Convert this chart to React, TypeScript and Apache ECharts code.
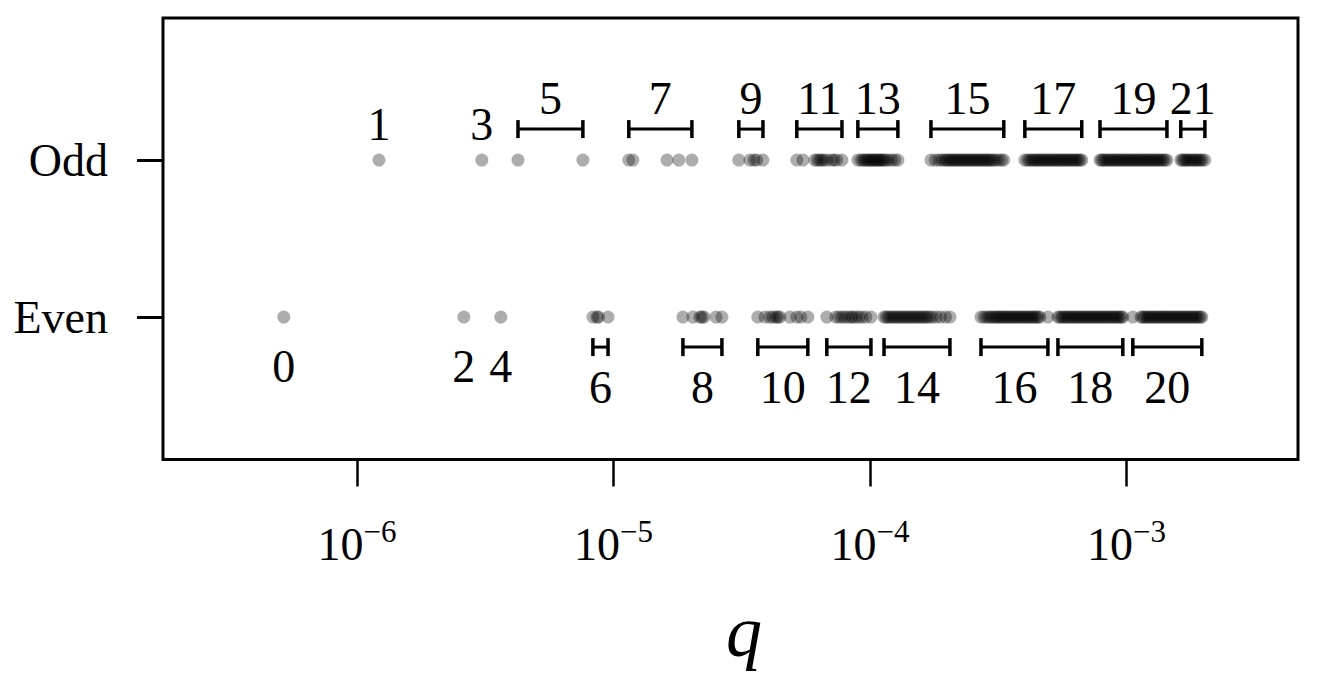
import React, { useEffect, useRef } from "react";
import * as echarts from "echarts";

const FONT = '"Liberation Serif", "Times New Roman", Times, serif';

// Row positions (value axis): Odd on top, Even below
const rowNames = ["Even", "Odd"];
const rowValues = [0, 1];

// x-axis tick exponents (labels shown as 10^k)
const tickExponents = [-6, -5, -4, -3];

// log10(q) of every point, grouped by label number
const odd1 = [-5.914];
const odd3 = [-5.513];
const odd5 = [-5.372, -5.119];
const odd7 = [-4.94, -4.924, -4.791, -4.745, -4.694];
const odd9 = [-4.511, -4.468, -4.452, -4.441, -4.417];
const odd11 = [-4.285, -4.261, -4.215, -4.205, -4.196, -4.188, -4.18, -4.168, -4.15, -4.14, -4.129, -4.109];
const odd13 = [-4.047, -4.035, -4.027, -4.02, -4.013, -4.006, -4.0, -3.994, -3.988, -3.982, -3.976, -3.97, -3.964, -3.958, -3.952, -3.946, -3.938, -3.928, -3.915, -3.903, -3.891];
const odd15 = [-3.762, -3.745, -3.731, -3.719, -3.71, -3.702, -3.695, -3.688, -3.681, -3.674, -3.667, -3.66, -3.653, -3.646, -3.639, -3.632, -3.625, -3.618, -3.611, -3.604, -3.597, -3.59, -3.583, -3.576, -3.569, -3.562, -3.555, -3.548, -3.541, -3.534, -3.527, -3.519, -3.51, -3.499, -3.487, -3.478];
const odd17 = [-3.396, -3.386, -3.378, -3.37, -3.363, -3.356, -3.349, -3.342, -3.335, -3.328, -3.321, -3.314, -3.307, -3.3, -3.293, -3.286, -3.279, -3.272, -3.265, -3.258, -3.251, -3.244, -3.237, -3.23, -3.223, -3.216, -3.209, -3.202, -3.195, -3.188, -3.181, -3.174];
const odd19 = [-3.103, -3.096, -3.089, -3.082, -3.075, -3.068, -3.061, -3.054, -3.047, -3.04, -3.033, -3.026, -3.019, -3.012, -3.005, -2.998, -2.991, -2.984, -2.977, -2.97, -2.963, -2.956, -2.949, -2.942, -2.935, -2.928, -2.921, -2.914, -2.907, -2.9, -2.893, -2.886, -2.879, -2.872, -2.865, -2.858, -2.85, -2.842];
const odd21 = [-2.788, -2.781, -2.774, -2.767, -2.76, -2.753, -2.746, -2.739, -2.732, -2.725, -2.718, -2.711, -2.704, -2.694];

const even0 = [-6.285];
const even2 = [-5.583];
const even4 = [-5.439];
const even6 = [-5.08, -5.064, -5.058, -5.021];
const even8 = [-4.729, -4.69, -4.663, -4.655, -4.647, -4.6, -4.577];
const even10 = [-4.437, -4.409, -4.39, -4.378, -4.366, -4.359, -4.351, -4.312, -4.285, -4.269, -4.242];
const even12 = [-4.168, -4.133, -4.121, -4.109, -4.098, -4.086, -4.074, -4.066, -4.055, -4.043, -4.031, -4.016, -3.996];
const even14 = [-3.945, -3.937, -3.929, -3.921, -3.913, -3.905, -3.897, -3.889, -3.881, -3.873, -3.865, -3.857, -3.849, -3.841, -3.833, -3.825, -3.817, -3.809, -3.801, -3.793, -3.785, -3.777, -3.768, -3.757, -3.742, -3.725, -3.705, -3.688];
const even16 = [-3.567, -3.555, -3.545, -3.536, -3.528, -3.52, -3.512, -3.505, -3.498, -3.491, -3.484, -3.477, -3.47, -3.463, -3.456, -3.449, -3.442, -3.435, -3.428, -3.421, -3.414, -3.407, -3.4, -3.393, -3.386, -3.379, -3.372, -3.365, -3.358, -3.351, -3.344, -3.337, -3.306];
const even18 = [-3.267, -3.259, -3.251, -3.244, -3.237, -3.23, -3.223, -3.216, -3.209, -3.202, -3.195, -3.188, -3.181, -3.174, -3.167, -3.16, -3.153, -3.146, -3.139, -3.132, -3.125, -3.118, -3.111, -3.104, -3.097, -3.09, -3.083, -3.076, -3.069, -3.062, -3.055, -3.048, -3.041, -3.034, -3.027, -3.02, -3.014];
const even20 = [-2.975, -2.943, -2.936, -2.929, -2.922, -2.915, -2.908, -2.901, -2.894, -2.887, -2.88, -2.873, -2.866, -2.859, -2.852, -2.845, -2.838, -2.831, -2.824, -2.817, -2.81, -2.803, -2.796, -2.789, -2.782, -2.775, -2.768, -2.761, -2.754, -2.747, -2.74, -2.733, -2.726, -2.719, -2.712, -2.706];

const oddLabels = [1, 3, 5, 7, 9, 11, 13, 15, 17, 19, 21];
const oddGroups = [odd1, odd3, odd5, odd7, odd9, odd11, odd13, odd15, odd17, odd19, odd21];
const evenLabels = [0, 2, 4, 6, 8, 10, 12, 14, 16, 18, 20];
const evenGroups = [even0, even2, even4, even6, even8, even10, even12, even14, even16, even18, even20];

const LABEL_SIZE = 46;

function bracketRender(params: any, api: any) {
  const lo = api.value(0);
  const hi = api.value(1);
  const row = api.value(2);
  const label = api.value(3);
  const p0 = api.coord([lo, row]);
  const p1 = api.coord([hi, row]);
  const up = row === 1;
  const single = hi - lo < 1e-9;
  const by = p0[1] + (up ? -31 : 30);
  const children: any[] = [];
  if (!single) {
    const ls = { stroke: "#000", lineWidth: 3 };
    children.push({ type: "line", shape: { x1: p0[0], y1: by, x2: p1[0], y2: by }, style: ls });
    children.push({ type: "line", shape: { x1: p0[0], y1: by - 9, x2: p0[0], y2: by + 9 }, style: { stroke: "#000", lineWidth: 3.5 } });
    children.push({ type: "line", shape: { x1: p1[0], y1: by - 9, x2: p1[0], y2: by + 9 }, style: { stroke: "#000", lineWidth: 3.5 } });
  }
  const cx = (p0[0] + p1[0]) / 2;
  const ty = single ? p0[1] + (up ? -36 : 49) : p0[1] + (up ? -62 : 70);
  children.push({
    type: "text",
    x: cx,
    y: ty,
    style: {
      text: String(label),
      fill: "#000",
      fontSize: LABEL_SIZE,
      fontFamily: FONT,
      align: "center",
      verticalAlign: "middle",
    },
  });
  return { type: "group", children };
}

export default function App() {
  const ref = useRef<HTMLDivElement>(null);
  useEffect(() => {
    if (!ref.current) return;
    const chart = echarts.init(ref.current, undefined, { renderer: "svg" });
    const oddPoints = oddGroups.flat().map((v) => [v, rowValues[1]]);
    const evenPoints = evenGroups.flat().map((v) => [v, rowValues[0]]);
    const oddBrackets = oddGroups.map((g, i) => [Math.min(...g), Math.max(...g), rowValues[1], oddLabels[i]]);
    const evenBrackets = evenGroups.map((g, i) => [Math.min(...g), Math.max(...g), rowValues[0], evenLabels[i]]);
    const pointStyle = { color: "rgba(0,0,0,0.4)", borderWidth: 0 };
    chart.setOption({
      animation: false,
      backgroundColor: "#fff",
      grid: {
        left: 163,
        right: 40,
        top: 18,
        bottom: 220.5,
        show: true,
        borderColor: "#000",
        borderWidth: 3,
        containLabel: false,
      },
      xAxis: {
        type: "value",
        min: -6.756,
        max: -2.331,
        name: "q",
        nameLocation: "middle",
        nameGap: 136,
        nameTextStyle: {
          fontFamily: FONT,
          fontStyle: "italic",
          fontSize: 72,
          color: "#000",
          padding: [0, 0, 0, 27],
        },
        axisLine: { show: false, onZero: false },
        splitLine: { show: false },
        axisTick: {
          show: true,
          customValues: tickExponents,
          length: 27,
          lineStyle: { color: "#000", width: 2.5 },
        },
        axisLabel: {
          customValues: tickExponents,
          margin: 56,
          formatter: (v: number) => `{b|10}{e|${v < 0 ? "\u2212" : ""}${Math.abs(v)}}`,
          rich: {
            b: { fontFamily: FONT, fontSize: LABEL_SIZE, color: "#000", lineHeight: 52, verticalAlign: "bottom" },
            e: { fontFamily: FONT, fontSize: 31, color: "#000", lineHeight: 20, verticalAlign: "top" },
          },
        },
      },
      yAxis: {
        type: "value",
        min: -0.907,
        max: 1.905,
        axisLine: { show: false, onZero: false },
        splitLine: { show: false },
        axisTick: {
          show: true,
          customValues: rowValues,
          length: 26,
          lineStyle: { color: "#000", width: 3 },
        },
        axisLabel: {
          customValues: rowValues,
          margin: 55,
          formatter: (v: number) => rowNames[rowValues.indexOf(v)],
          fontFamily: FONT,
          fontSize: LABEL_SIZE,
          color: "#000",
        },
      },
      series: [
        { type: "scatter", data: oddPoints, symbolSize: 13, itemStyle: pointStyle, silent: true },
        { type: "scatter", data: evenPoints, symbolSize: 13, itemStyle: pointStyle, silent: true },
        { type: "custom", data: oddBrackets, renderItem: bracketRender, encode: { x: [0, 1], y: 2 }, clip: false, silent: true },
        { type: "custom", data: evenBrackets, renderItem: bracketRender, encode: { x: [0, 1], y: 2 }, clip: false, silent: true },
      ],
    });
    return () => chart.dispose();
  }, []);
  return (
    <div
      ref={ref}
      style={{ position: "absolute", left: 0, top: 0, width: 1338, height: 680, background: "#fff" }}
    />
  );
}
